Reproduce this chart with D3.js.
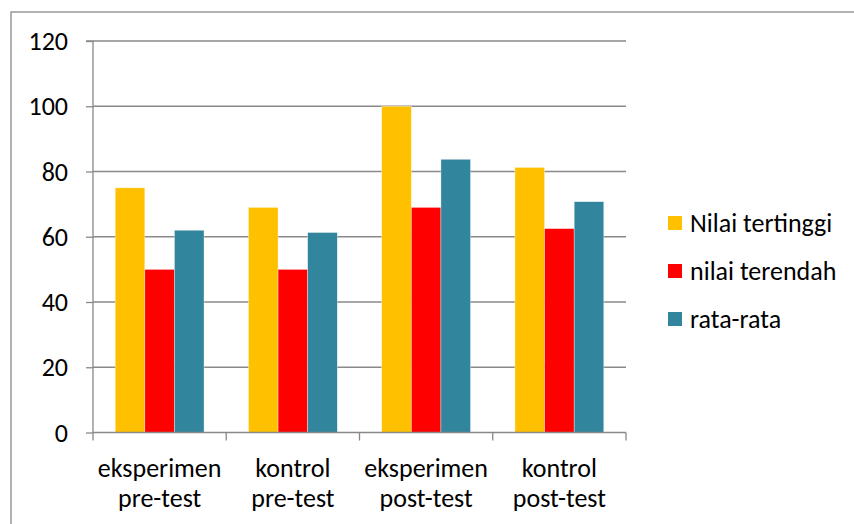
<!DOCTYPE html>
<html>
<head>
<meta charset="utf-8">
<script src="https://cdn.jsdelivr.net/npm/d3@7"></script>
<style>
  html, body { margin: 0; padding: 0; background: #fff; }
  svg { display: block; }
  text { font-family: Carlito, "Open Sans", "Liberation Sans", sans-serif; fill: #000; }
</style>
</head>
<body>
<svg id="chart" width="854" height="524"></svg>
<script>
// Groups along the x axis (two text lines each)
const categories = [
  ["eksperimen", "pre-test"],
  ["kontrol", "pre-test"],
  ["eksperimen", "post-test"],
  ["kontrol", "post-test"]
];
const seriesNames = ["Nilai tertinggi", "nilai terendah", "rata-rata"];
const seriesColors = ["#FFC000", "#FF0000", "#31859C"];
const nilaiTertinggi = [75, 69, 100, 81.25];
const nilaiTerendah = [50, 50, 69, 62.5];
const rataRata = [62, 61.3, 83.75, 70.75];
const yTicks = [0, 20, 40, 60, 80, 100, 120];

const seriesValues = [nilaiTertinggi, nilaiTerendah, rataRata];
const gridColor = "#898989";
const fontSize = 26;

const svg = d3.select("#chart");

// Chart frame
svg.append("rect")
  .attr("x", 11).attr("y", 12)
  .attr("width", 900).attr("height", 600)
  .attr("fill", "none").attr("stroke", gridColor).attr("stroke-width", 1.3);

const plot = { left: 93, right: 626, top: 41, bottom: 432.5 };

const x = d3.scaleBand()
  .domain(d3.range(categories.length))
  .range([plot.left, plot.right])
  .paddingInner(0).paddingOuter(0);

// Three bars per group with a 150% gap between groups
const inner = d3.scaleBand()
  .domain(d3.range(seriesNames.length))
  .range([0, x.bandwidth()])
  .paddingInner(0)
  .paddingOuter(0.75);

const y = d3.scaleLinear().domain([0, 120]).range([plot.bottom, plot.top]);

// Horizontal gridlines
svg.append("g")
  .selectAll("line")
  .data(yTicks.filter(t => t > 0))
  .join("line")
  .attr("x1", plot.left).attr("x2", plot.right)
  .attr("y1", d => y(d)).attr("y2", d => y(d))
  .attr("stroke", gridColor).attr("stroke-width", 1.3);

// Bars
const groups = svg.append("g")
  .selectAll("g")
  .data(categories.map((c, i) => i))
  .join("g")
  .attr("transform", i => `translate(${x(i)},0)`);

groups.selectAll("rect")
  .data(i => seriesValues.map((vals, s) => ({ s, v: vals[i] })))
  .join("rect")
  .attr("x", d => inner(d.s))
  .attr("width", inner.bandwidth())
  .attr("y", d => y(d.v))
  .attr("height", d => y(0) - y(d.v))
  .attr("fill", d => seriesColors[d.s])
  .attr("stroke", "#ffffff").attr("stroke-opacity", 0.6).attr("stroke-width", 0.6);

// Y axis
const yAxis = d3.axisLeft(y).tickValues(yTicks).tickSize(7).tickPadding(18)
  .tickFormat(d3.format("d"));
const yg = svg.append("g").attr("transform", `translate(${plot.left},0)`).call(yAxis);
yg.attr("font-family", null).attr("font-size", null);
yg.select(".domain").attr("stroke", gridColor).attr("stroke-width", 1.3)
  .attr("d", `M-7,${plot.top}H0V${plot.bottom}`);
yg.selectAll(".tick line").attr("stroke", gridColor).attr("stroke-width", 1.3);
yg.selectAll(".tick text").attr("font-size", fontSize).attr("dy", "0.33em");

// X axis
const xAxis = d3.axisBottom(x).tickSize(0).tickFormat("");
const xg = svg.append("g").attr("transform", `translate(0,${plot.bottom})`).call(xAxis);
xg.attr("font-family", null).attr("font-size", null);
xg.select(".domain").attr("stroke", gridColor).attr("stroke-width", 1.3)
  .attr("d", `M${plot.left},0H${plot.right}`);
const xBounds = d3.range(categories.length + 1).map(i => i < categories.length ? x(i) : plot.right);
xg.selectAll("line.sep")
  .data(xBounds)
  .join("line")
  .attr("class", "sep")
  .attr("x1", d => d).attr("x2", d => d)
  .attr("y1", 0).attr("y2", 8)
  .attr("stroke", gridColor).attr("stroke-width", 1.3);

const labels = svg.append("g");
categories.forEach((lines, i) => {
  const cx = x(i) + x.bandwidth() / 2;
  lines.forEach((t, k) => {
    labels.append("text")
      .attr("x", cx).attr("y", 477 + k * 30)
      .attr("text-anchor", "middle")
      .attr("font-size", fontSize)
      .text(t);
  });
});

// Legend
const legend = svg.append("g");
seriesNames.forEach((name, i) => {
  const ly = 223 + i * 48;
  legend.append("rect")
    .attr("x", 668).attr("y", ly - 7)
    .attr("width", 14).attr("height", 14)
    .attr("fill", seriesColors[i]);
  legend.append("text")
    .attr("x", 690).attr("y", ly + 9)
    .attr("font-size", fontSize)
    .text(name);
});
</script>
</body>
</html>
